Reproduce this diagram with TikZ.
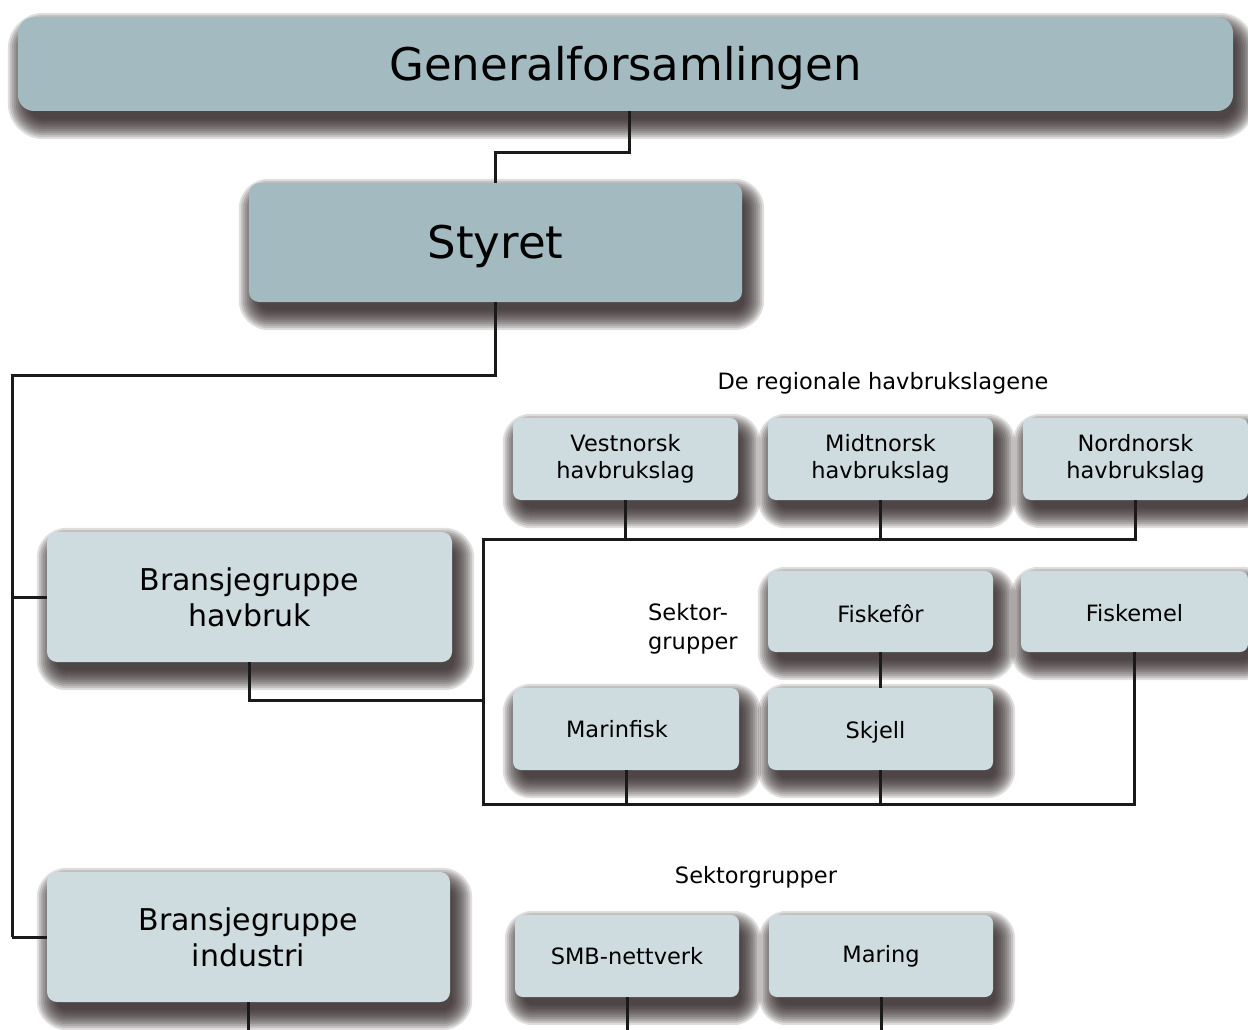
\documentclass[tikz,border=0pt]{standalone}
\usepackage{fontspec}
\setmainfont{DejaVu Sans}
\usetikzlibrary{calc,backgrounds}
\definecolor{boxdark}{HTML}{A3BBC0}
\definecolor{boxlight}{HTML}{CFDCDF}
\definecolor{shadowc}{HTML}{2A2020}
\definecolor{linec}{HTML}{1A1A1A}
\newcommand{\myboxshadow}[2]{%
  \foreach \r in {0,2,...,20}{%
    \fill[shadowc, opacity=0.15, rounded corners={(#2+\r)*1pt}]
      ($(#1.north west)+(10-\r,16-\r)$) rectangle ($(#1.south east)+(2+\r,8+\r)$);
  }}
\tikzset{
  bx/.style={draw=none, rounded corners=8pt, inner sep=0pt, align=center,
    font=\fontsize{22.5}{27}\selectfont, fill=boxlight},
  bigbx/.style={bx, fill=boxdark, font=\fontsize{45}{54}\selectfont},
  midbx/.style={bx, font=\fontsize{30}{36}\selectfont, rounded corners=10pt},
  conn/.style={draw=linec, line width=3pt, line join=miter},
  lbl/.style={font=\fontsize{22.5}{27}\selectfont, inner sep=0pt}
}
\begin{document}
\begin{tikzpicture}[x=1pt,y=-1pt]
\useasboundingbox (0,0) rectangle (1248,1030);
% boxes
\node[bigbx, rounded corners=16pt, minimum width=1215pt, minimum height=94pt] (gen) at (625.5,64) {\raisebox{-4pt}[\height][\depth]{Generalforsamlingen}};
\node[bigbx, rounded corners=10pt, minimum width=493pt, minimum height=119pt] (sty) at (495.5,242.5) {\raisebox{-4pt}[\height][\depth]{Styret}};
\node[midbx, minimum width=405pt, minimum height=130pt] (bh) at (249.5,597) {Bransjegruppe\\havbruk};
\node[midbx, minimum width=403pt, minimum height=130pt] (bi) at (248.5,937) {Bransjegruppe\\industri};
\node[bx, minimum width=225pt, minimum height=82pt] (ves) at (625.5,459) {Vestnorsk\\havbrukslag};
\node[bx, minimum width=225pt, minimum height=82pt] (mid) at (880.5,459) {Midtnorsk\\havbrukslag};
\node[bx, minimum width=225pt, minimum height=82pt] (nor) at (1135.5,459) {Nordnorsk\\havbrukslag};
\node[bx, minimum width=225pt, minimum height=81pt] (fif) at (880.5,611.5) {\raisebox{-2pt}[\height][\depth]{Fiskefôr}};
\node[bx, minimum width=227pt, minimum height=81pt] (fim) at (1134.5,611.5) {\raisebox{-2pt}[\height][\depth]{Fiskemel}};
\node[bx, minimum width=226pt, minimum height=82pt] (mar) at (626,729) {Marinfisk\hspace*{18pt}};
\node[bx, minimum width=225pt, minimum height=82pt] (skj) at (880.5,729) {\raisebox{-3pt}[\height][\depth]{Skjell}\hspace*{10pt}};
\node[bx, minimum width=224pt, minimum height=82pt] (smb) at (627,956) {SMB-nettverk};
\node[bx, minimum width=224pt, minimum height=82pt] (mrg) at (881,956) {Maring};
% labels
\node[lbl] (lreg) at (883,383) {De regionale havbrukslagene};
\node[lbl, anchor=west, align=left, font=\fontsize{22.5}{29}\selectfont] (lsek) at (648,629) {Sektor-\\grupper};
\node[lbl] (lsek2) at (756,877) {Sektorgrupper};
% shadows
\begin{scope}[on background layer]
\foreach \n/\c in {gen/16,sty/10,bh/10,bi/10,ves/8,mid/8,nor/8,fif/8,fim/8,mar/8,skj/8,smb/8,mrg/8}{\myboxshadow{\n}{\c}}
\end{scope}
% connectors
\coordinate (j1) at (629,153);
\coordinate (j2) at (12,375);
\coordinate (j3) at (483,700);
\coordinate (tl) at (483,539);
\coordinate (bl) at (483,804);
\coordinate (bot) at (0,1031);
\draw[conn] (gen.south -| j1) -- (j1) -| (sty.north);
\draw[conn] (sty.south) |- (j2) -- (j2 |- bi.west);
\draw[conn] (j2 |- bh.west) -- (bh.west);
\draw[conn] (j2 |- bi.west) -- (bi.west);
\draw[conn] (ves.south) -- (ves.south |- tl);
\draw[conn] (mid.south) -- (mid.south |- tl);
\draw[conn] (nor.south) -- (nor.south |- tl) -- (tl) -- (bl) -- (bl -| fim.south) -- (fim.south);
\draw[conn] (bh.south) |- (j3);
\draw[conn] (mar.south) -- (mar.south |- bl);
\draw[conn] (skj.south) -- (skj.south |- bl);
\draw[conn] (fif.south) -- (skj.north);
\draw[conn] (bi.south) -- (bi.south |- bot);
\draw[conn] (smb.south) -- (smb.south |- bot);
\draw[conn] (mrg.south) -- (mrg.south |- bot);
\end{tikzpicture}
\end{document}
